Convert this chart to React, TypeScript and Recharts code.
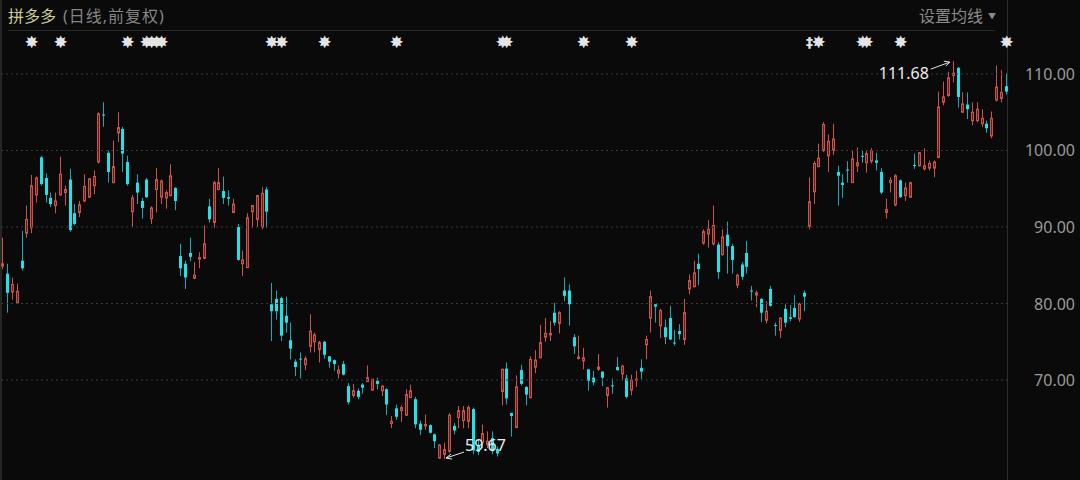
import React from "react";
import {
  Bar,
  ComposedChart,
  ReferenceDot,
  ReferenceLine,
  XAxis,
  YAxis,
} from "recharts";

// 日线 OHLC（前复权），按交易日顺序
const opens = [
  84.9, 83.9, 81.5, 80.1, 85.6, 89.2, 89.9, 94.2, 99.1, 96.4,
  93.8, 92.8, 94.2, 94.5, 96.2, 91.8, 91.9, 93.4, 93.9, 95.4,
  98.5, 104.7, 99.7, 95.8, 102.3, 102.8, 98.5, 92.0, 95.8, 93.4,
  96.2, 91.1, 94.9, 93.9, 93.8, 94.1, 95.1, 86.2, 85.2, 86.6,
  83.3, 85.8, 85.9, 92.7, 90.6, 94.9, 94.7, 93.9, 91.9, 90.0,
  85.2, 84.7, 92.0, 91.0, 90.0, 94.9, 79.9, 80.6, 80.7, 78.4,
  75.2, 72.4, 72.8, 72.0, 74.4, 75.0, 74.0, 75.0, 73.1, 72.6,
  70.9, 72.1, 69.2, 68.0, 68.6, 69.4, 69.8, 68.7, 69.9, 68.6,
  68.8, 64.3, 66.3, 66.0, 65.4, 67.7, 67.5, 64.3, 64.0, 64.1,
  62.9, 59.8, 60.3, 60.7, 64.0, 65.1, 64.7, 64.6, 66.2, 61.5,
  61.8, 61.6, 62.4, 61.0, 68.5, 71.5, 65.7, 63.8, 71.3, 69.1,
  67.7, 71.7, 72.9, 75.6, 75.9, 78.8, 77.4, 81.7, 81.7, 75.6,
  72.8, 72.5, 71.4, 70.3, 71.4, 71.1, 68.0, 69.3, 71.7, 70.8,
  70.2, 68.7, 70.0, 71.6, 74.6, 78.1, 79.9, 77.1, 76.9, 78.1,
  74.9, 76.4, 75.3, 81.9, 82.2, 85.2, 87.9, 89.1, 87.8, 87.7,
  86.4, 89.0, 87.5, 82.4, 85.1, 86.6, 81.7, 81.1, 80.6, 77.8,
  81.9, 77.2, 76.5, 79.3, 78.2, 79.4, 78.0, 81.4, 90.1, 94.6,
  97.9, 100.0, 99.3, 100.0, 97.2, 95.8, 97.5, 95.8, 98.0, 99.3,
  98.4, 98.6, 98.7, 97.2, 91.9, 95.8, 92.9, 96.1, 94.1, 93.9,
  98.1, 98.0, 97.6, 97.7, 97.7, 99.1, 106.3, 107.2, 109.8, 110.8,
  105.0, 106.0, 103.9, 103.9, 103.5, 103.5, 101.9, 106.6, 106.8, 108.4,
];

const highs = [
  88.6, 85.2, 83.4, 82.6, 89.5, 92.8, 96.8, 96.6, 99.3, 97.0,
  94.5, 94.5, 99.2, 95.4, 97.6, 93.0, 93.4, 96.9, 96.4, 97.4,
  105.0, 106.3, 100.0, 101.3, 105.0, 103.1, 99.3, 94.2, 96.9, 93.8,
  96.4, 92.7, 97.7, 96.2, 94.8, 98.2, 95.2, 87.8, 85.6, 88.6,
  85.4, 86.7, 90.2, 93.7, 96.0, 97.7, 96.6, 94.8, 93.7, 90.4,
  86.9, 91.8, 92.8, 94.2, 95.2, 95.2, 82.7, 81.7, 80.9, 80.9,
  77.5, 72.7, 73.6, 73.1, 78.6, 76.2, 75.1, 75.1, 73.1, 72.7,
  71.9, 72.5, 69.6, 69.5, 68.9, 69.6, 71.9, 70.1, 70.3, 69.3,
  68.9, 65.3, 66.8, 66.7, 68.8, 69.4, 67.8, 64.7, 65.5, 64.2,
  63.0, 61.6, 61.8, 65.7, 64.4, 66.6, 66.6, 66.7, 66.4, 62.2,
  64.2, 63.3, 63.3, 61.3, 71.5, 72.3, 65.7, 70.6, 72.0, 69.2,
  73.1, 73.9, 77.2, 78.1, 77.7, 80.1, 79.0, 83.4, 82.5, 76.0,
  75.8, 74.2, 71.4, 71.2, 73.4, 71.1, 69.1, 70.2, 73.0, 72.0,
  70.7, 70.7, 71.2, 72.7, 75.8, 81.7, 79.9, 79.3, 77.9, 79.7,
  76.5, 77.3, 80.6, 83.8, 85.6, 86.5, 89.7, 90.9, 92.8, 88.0,
  89.7, 90.7, 87.8, 83.9, 85.4, 88.2, 82.3, 81.7, 80.7, 80.3,
  82.3, 77.5, 78.2, 79.9, 79.8, 81.1, 80.1, 81.7, 96.5, 98.6,
  100.9, 103.7, 102.1, 103.5, 98.0, 96.9, 98.6, 100.0, 100.4, 100.0,
  100.0, 100.3, 99.7, 97.7, 93.7, 96.5, 96.9, 96.2, 95.8, 95.9,
  99.6, 99.8, 100.3, 98.7, 98.7, 107.7, 109.0, 110.3, 111.68, 110.9,
  107.6, 107.6, 106.3, 106.3, 105.4, 103.9, 105.1, 111.1, 110.5, 110.1,
];

const lows = [
  84.5, 78.8, 80.5, 80.1, 84.3, 88.6, 89.2, 93.2, 95.4, 93.2,
  92.6, 91.8, 94.1, 92.8, 89.4, 90.2, 91.3, 93.3, 93.8, 94.3,
  98.3, 103.1, 95.8, 95.7, 101.1, 97.2, 95.4, 90.0, 93.0, 91.1,
  93.8, 90.4, 91.9, 93.0, 92.4, 94.0, 92.2, 83.6, 81.9, 85.5,
  83.2, 84.6, 85.8, 90.6, 89.9, 94.8, 93.0, 92.8, 91.8, 85.6,
  83.6, 84.7, 89.9, 90.0, 89.7, 89.9, 75.1, 77.9, 75.1, 76.2,
  72.7, 70.5, 70.2, 71.3, 73.6, 73.6, 72.3, 72.8, 71.6, 71.2,
  70.2, 70.6, 66.8, 67.7, 67.5, 68.2, 69.8, 68.6, 68.8, 67.9,
  65.4, 63.7, 64.8, 64.5, 65.3, 67.7, 63.7, 62.8, 63.5, 63.0,
  61.1, 59.75, 59.67, 60.5, 62.9, 63.7, 63.7, 63.7, 60.3, 60.2,
  61.1, 61.1, 60.3, 60.0, 66.7, 66.8, 62.6, 63.7, 69.3, 66.7,
  67.6, 70.9, 72.9, 75.0, 75.1, 77.1, 76.1, 80.3, 77.1, 73.4,
  72.7, 71.4, 68.6, 69.3, 71.2, 69.2, 66.4, 68.2, 71.2, 70.0,
  67.6, 68.0, 69.1, 70.1, 72.7, 76.2, 77.5, 75.5, 74.7, 75.2,
  74.5, 75.3, 74.6, 81.2, 82.1, 82.4, 87.7, 87.3, 87.6, 83.2,
  86.2, 83.9, 83.9, 82.0, 83.1, 83.9, 80.4, 79.5, 77.6, 77.4,
  79.6, 75.8, 75.5, 76.9, 77.7, 78.2, 77.6, 79.0, 89.7, 93.0,
  97.8, 99.8, 97.2, 99.4, 92.8, 93.8, 95.8, 95.8, 97.2, 98.4,
  97.1, 98.3, 97.4, 94.3, 91.1, 94.5, 92.7, 93.8, 93.4, 93.8,
  97.6, 97.9, 97.4, 97.4, 96.5, 99.0, 105.9, 107.0, 108.9, 105.6,
  104.9, 104.1, 103.3, 103.7, 103.1, 102.3, 101.6, 106.4, 106.3, 107.3,
];

const closes = [
  85.2, 81.4, 82.5, 81.6, 84.6, 91.0, 95.4, 96.4, 95.6, 94.2,
  93.0, 93.4, 96.9, 94.9, 89.6, 90.4, 92.9, 95.3, 96.3, 96.6,
  104.8, 104.6, 97.2, 97.9, 103.0, 99.6, 95.6, 93.8, 94.5, 92.5,
  93.9, 92.5, 96.2, 96.0, 94.5, 96.7, 93.4, 84.6, 83.4, 86.1,
  83.7, 86.0, 87.8, 91.0, 95.8, 95.8, 93.8, 93.7, 93.0, 85.7,
  85.7, 91.2, 92.8, 94.1, 94.4, 92.0, 79.0, 79.0, 75.8, 77.5,
  74.1, 71.7, 72.7, 72.8, 76.4, 75.9, 74.9, 73.3, 72.4, 72.1,
  71.3, 70.7, 67.1, 68.6, 67.8, 69.0, 70.3, 70.1, 69.5, 69.2,
  66.8, 64.6, 65.2, 66.4, 68.1, 68.6, 64.2, 63.5, 64.2, 63.1,
  62.0, 61.5, 60.9, 65.4, 63.4, 66.0, 66.0, 66.4, 60.8, 60.6,
  63.0, 62.0, 60.7, 60.4, 71.4, 67.6, 65.3, 69.1, 69.5, 68.1,
  72.7, 72.6, 74.9, 76.1, 76.1, 77.5, 78.8, 81.0, 79.9, 74.4,
  73.0, 72.9, 69.9, 69.7, 71.7, 70.3, 69.0, 69.2, 71.3, 71.8,
  67.8, 70.0, 70.1, 71.1, 75.3, 80.9, 79.6, 79.1, 75.6, 75.3,
  74.8, 76.0, 78.8, 83.0, 84.0, 84.5, 89.4, 89.7, 90.2, 84.1,
  88.7, 87.5, 85.7, 83.7, 83.5, 84.8, 81.6, 81.4, 78.8, 79.0,
  79.7, 77.1, 78.1, 77.5, 78.0, 78.2, 79.9, 80.9, 93.3, 98.3,
  99.0, 103.4, 101.2, 101.5, 96.7, 95.5, 97.4, 98.9, 98.4, 99.2,
  99.6, 100.0, 98.4, 94.5, 92.3, 96.1, 96.7, 93.9, 95.1, 95.8,
  98.0, 99.7, 98.0, 98.3, 98.5, 105.7, 107.0, 109.5, 110.1, 107.0,
  106.1, 105.4, 105.0, 105.4, 104.2, 102.9, 104.2, 108.3, 107.6, 107.7,
];

// 事件标记（星号）所在的交易日
const markerDays = [6, 12, 26, 30, 31, 32, 33, 56, 58, 67, 82, 104, 105, 121, 131, 168, 170, 179, 180, 187, 209];
const specialMarkerDays = [168];

const yTicks = [70, 80, 90, 100, 110];
const highPoint = { day: 198, value: 111.68 };
const lowPoint = { day: 92, value: 59.67 };

const UP = "#cc524b";
const UP_FILL = "#5a2220";
const DOWN = "#1fe3ea";
const DOWN_WICK = "#17aab0";

const FONT = '"Noto Sans", "Noto Sans CJK SC", sans-serif';

const data = opens.map((open, i) => ({
  day: i,
  open,
  high: highs[i],
  low: lows[i],
  close: closes[i],
  range: [lows[i], highs[i]],
}));

const Candle = (props: any) => {
  const { x, y, width, height, payload } = props;
  if (x == null || y == null || !payload) return null;
  const { open, close, high, low, day } = payload;
  const cx = Math.round(x + width / 2) + 0.5;
  const py = (v: number) => y + ((high - v) / (high - low)) * height;
  const up = close >= open;
  const top = py(Math.max(open, close));
  let bottom = py(Math.min(open, close));
  if (bottom - top < 1) bottom = top + 1;
  const mark = markerDays.includes(day);
  const special = specialMarkerDays.includes(day);
  return (
    <g>
      <line x1={cx} x2={cx} y1={y} y2={y + height} stroke={up ? UP : DOWN_WICK} strokeWidth={1} />
      {up ? (
        <rect x={cx - 1} y={top} width={2} height={bottom - top} fill={UP_FILL} stroke={UP} strokeWidth={1} />
      ) : (
        <rect x={cx - 1.5} y={top} width={3} height={bottom - top} fill={DOWN} />
      )}
      {mark && (
        <text
          x={cx}
          y={42}
          textAnchor="middle"
          dominantBaseline="central"
          fill="#e4e4e4"
          fontSize={special ? 14 : 17}
          fontWeight={special ? "bold" : "normal"}
          fontFamily='"DejaVu Sans", sans-serif'
        >
          {special ? "‡" : "✸"}
        </text>
      )}
    </g>
  );
};

const PriceTick = ({ y, payload }: any) => (
  <text x={1075} y={y} textAnchor="end" dominantBaseline="central" fill="#9a9a9a" fontSize={16} fontFamily={FONT}>
    {Number(payload.value).toFixed(2)}
  </text>
);

const HighLabel = ({ cx, cy }: any) => (
  <g>
    <line x1={cx - 22} y1={cy + 8} x2={cx - 3} y2={cy + 1} stroke="#e6e6e6" strokeWidth={1} />
    <polyline points={`${cx - 9},${cy} ${cx - 3},${cy + 1} ${cx - 7},${cy + 5}`} fill="none" stroke="#e6e6e6" strokeWidth={1} />
    <text x={cx - 24} y={cy + 12} textAnchor="end" dominantBaseline="central" fill="#ececec" fontSize={16} fontFamily={FONT}>
      111.68
    </text>
  </g>
);

const LowLabel = ({ cx, cy }: any) => (
  <g>
    <line x1={cx + 20} y1={cy - 7} x2={cx + 2} y2={cy - 1} stroke="#e6e6e6" strokeWidth={1} />
    <polyline points={`${cx + 7},${cy - 5} ${cx + 2},${cy - 1} ${cx + 8},${cy}`} fill="none" stroke="#e6e6e6" strokeWidth={1} />
    <text x={cx + 21} y={cy - 14} dominantBaseline="central" fill="#ececec" fontSize={16} fontFamily={FONT}>
      59.67
    </text>
  </g>
);

export default function App() {
  return (
    <div
      style={{
        position: "absolute",
        left: 0,
        top: 0,
        width: 1080,
        height: 480,
        background: "#0a0a0a",
        overflow: "hidden",
        fontFamily: FONT,
      }}
    >
      <div style={{ position: "absolute", left: 8, top: 4, fontSize: 16, lineHeight: "24px", whiteSpace: "nowrap" }}>
        <span style={{ color: "#d2cc9c" }}>拼多多</span>
        <span style={{ color: "#858585", marginLeft: 7, letterSpacing: 1 }}>(日线,前复权)</span>
      </div>
      <div style={{ position: "absolute", left: 919, top: 4, fontSize: 16, lineHeight: "24px", color: "#8a8a8a", whiteSpace: "nowrap" }}>
        设置均线<span style={{ fontSize: 8, position: "relative", top: -3, marginLeft: 5 }}>▼</span>
      </div>
      <div style={{ position: "absolute", left: 8, top: 30, width: 987, height: 1, background: "#2a2a2a" }} />
      <div style={{ position: "absolute", left: 0, top: 0, width: 2, height: 480, background: "#262626" }} />
      <div style={{ position: "absolute", left: 1007, top: 0, width: 1, height: 480, background: "#2e2e2e" }} />
      <div style={{ position: "absolute", left: 0, top: 0 }}>
        <ComposedChart width={1080} height={480} data={data} margin={{ top: 55, right: 0, bottom: 10, left: 0 }}>
          <XAxis dataKey="day" hide />
          <YAxis
            orientation="right"
            width={72}
            domain={[58.24, 112.48]}
            ticks={yTicks}
            axisLine={false}
            tickLine={false}
            tick={<PriceTick />}
          />
          {yTicks.map((t) => (
            <ReferenceLine key={t} y={t} stroke="#3a3a3a" strokeDasharray="2 3" />
          ))}
          <Bar dataKey="range" shape={<Candle />} isAnimationActive={false} />
          <ReferenceDot x={highPoint.day} y={highPoint.value} shape={<HighLabel />} ifOverflow="visible" />
          <ReferenceDot x={lowPoint.day} y={lowPoint.value} shape={<LowLabel />} ifOverflow="visible" />
        </ComposedChart>
      </div>
    </div>
  );
}
